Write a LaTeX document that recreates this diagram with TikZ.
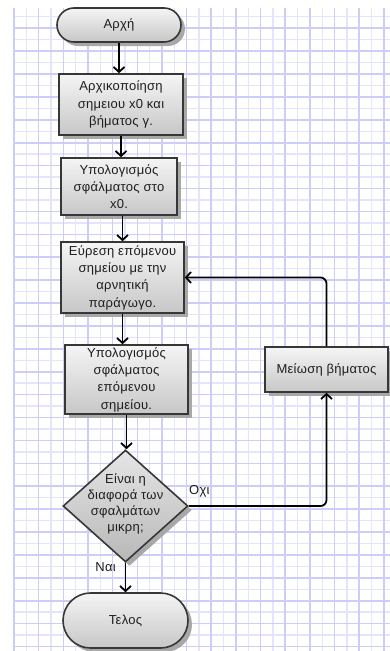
\documentclass[tikz,border=0pt]{standalone}
\usepackage{fontspec}
\setmainfont{Liberation Sans}[LetterSpace=2]
\usetikzlibrary{shapes.geometric,shapes.misc,shadows,arrows.meta}

\definecolor{gridmajor}{RGB}{205,205,250}
\definecolor{gridminor}{RGB}{228,228,250}
\definecolor{edge}{RGB}{55,55,55}
\definecolor{ink}{RGB}{30,30,30}
\definecolor{shade}{RGB}{168,168,168}

\tikzset{
  flowbase/.style={draw=edge, line width=1.6pt, top color=white!96!black,
    bottom color=black!22, text=ink, align=center, inner sep=0pt,
    font=\fontsize{13}{17.3}\selectfont,
    general shadow={fill=shade, shadow xshift=4pt, shadow yshift=-4pt}},
  procbox/.style={flowbase, rectangle},
  terminal/.style={flowbase, rounded rectangle},
  decision/.style={flowbase, diamond, top color=black!10, bottom color=black!28},
  plain/.style={text=ink, align=center, inner sep=0pt,
    font=\fontsize{13}{16}\selectfont},
  flow/.style={draw=black, line width=1.8pt,
    -{Straight Barb[length=5pt,width=11pt]}},
}

\begin{document}
\begin{tikzpicture}[x=1pt,y=-1pt]
\fill[white] (0,0) rectangle (390,651);
\useasboundingbox (0,0) rectangle (390,651);

% background grid paper
\foreach \k in {1,3,...,29}
  \draw[gridminor, line width=1.4pt] ({14+12.33*\k},8) -- ({14+12.33*\k},651);
\foreach \j in {1,3,...,55}
  \draw[gridminor, line width=1.4pt] (14,{5.3+11.45*\j}) -- (390,{5.3+11.45*\j});
\foreach \k in {0,2,...,30}
  \draw[gridmajor, line width=1.6pt] ({14+12.33*\k},8) -- ({14+12.33*\k},651);
\foreach \j in {2,4,...,56}
  \draw[gridmajor, line width=1.6pt] (14,{5.3+11.45*\j}) -- (390,{5.3+11.45*\j});

% flowchart nodes
\node[terminal, minimum width=124pt, minimum height=34pt] (start) at (119,25) {Αρχή};
\node[procbox, minimum width=124pt, minimum height=61pt] (init) at (121,104.5)
  {Αρχικοποίηση\\σημειου x0 και\\βήματος γ.};
\node[procbox, minimum width=116pt, minimum height=57pt] (err0) at (119,186.5)
  {Υπολογισμός\\σφάλματος στο\\x0.};
\node[procbox, minimum width=123pt, minimum height=71pt] (find) at (122.5,277.5)
  {Εύρεση επόμενου\\σημείου με την\\αρνητική\\παράγωγο.};
\node[procbox, minimum width=123pt, minimum height=69pt] (errn) at (126.5,379.5)
  {Υπολογισμός\\σφάλματος\\επόμενου\\σημείου.};
\node[decision, minimum width=125pt, minimum height=112pt] (dec) at (125.5,506) {};
\node[plain] (dectext) at (125.5,504) {Είναι η\\διαφορά των\\σφαλμάτων\\μικρη;};
\node[terminal, minimum width=125pt, minimum height=55pt] (stop) at (125.5,620.5) {Τελος};
\node[procbox, minimum width=123pt, minimum height=45pt] (reduce) at (326.5,369.5)
  {Μείωση βήματος};

% connectors
\draw[flow] (start.south) -- (start.south |- init.north);
\draw[flow] (init.south) -- (init.south |- err0.north);
\draw[flow] (err0.south -| find.north) -- (find.north);
\draw[flow] (find.south) -- (find.south |- errn.north);
\draw[flow] (errn.south) -- (errn.south |- dec.north);
\draw[flow] (dec.south) -- (dec.south |- stop.north);
\draw[flow, rounded corners=6pt] (dec.east) -| (reduce.south);
\draw[flow, rounded corners=6pt] (reduce.north) |- (find.east);

% branch labels
\node[plain, anchor=west] (no) at (189,491) {Οχι};
\node[plain, anchor=east] (yes) at (116,567) {Ναι};
\end{tikzpicture}
\end{document}
